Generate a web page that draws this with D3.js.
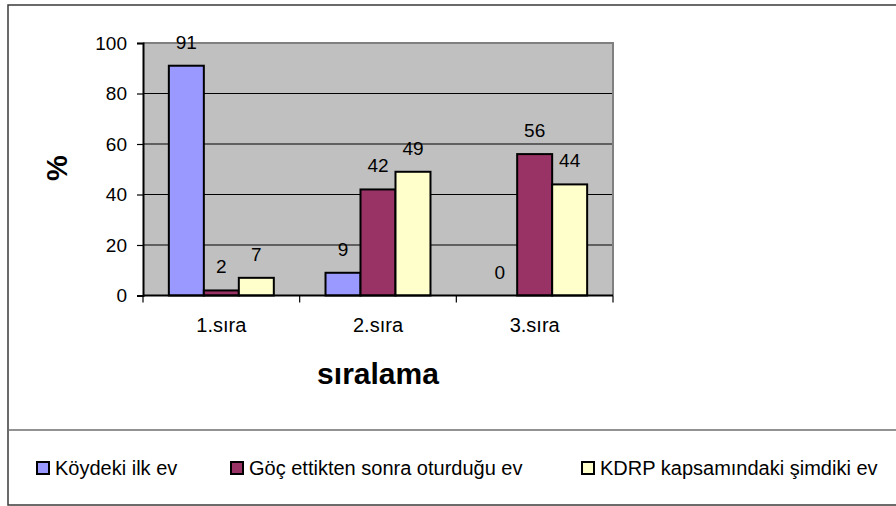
<!DOCTYPE html>
<html>
<head>
<meta charset="utf-8">
<script src="https://cdn.jsdelivr.net/npm/d3@7"></script>
<style>
  html, body { margin: 0; padding: 0; background: #fff; }
  svg { display: block; font-family: "Liberation Sans", Arial, sans-serif; }
</style>
</head>
<body>
<svg id="chart" width="896" height="506"></svg>
<script>
// Categories, series and values
const categories = ["1.sıra", "2.sıra", "3.sıra"];
const seriesNames = ["Köydeki ilk ev", "Göç ettikten sonra oturduğu ev", "KDRP kapsamındaki şimdiki ev"];
const seriesColors = ["#9999FF", "#993366", "#FFFFCC"];
const koydekiIlkEv = [91, 9, 0];
const gocSonrasiEv = [2, 42, 56];
const kdrpSimdikiEv = [7, 49, 44];
const yTicks = [0, 20, 40, 60, 80, 100];

const seriesValues = [koydekiIlkEv, gocSonrasiEv, kdrpSimdikiEv];

const svg = d3.select("#chart");

// Outer chart frame and legend separator
svg.append("rect")
  .attr("x", 8).attr("y", 5).attr("width", 900).attr("height", 500)
  .attr("fill", "none").attr("stroke", "#3a3a3a").attr("stroke-width", 1.5);
svg.append("line")
  .attr("x1", 8).attr("x2", 896).attr("y1", 430).attr("y2", 430)
  .attr("stroke", "#6e6e6e").attr("stroke-width", 1.5);

// Plot area
const plot = { left: 143, right: 613, top: 43, bottom: 295.5 };

const x = d3.scaleBand().domain(categories).range([plot.left, plot.right]).padding(0);
const groupWidth = x.bandwidth() * 0.67;
const xInner = d3.scaleBand()
  .domain(d3.range(seriesNames.length))
  .range([(x.bandwidth() - groupWidth) / 2, (x.bandwidth() + groupWidth) / 2])
  .padding(0);
const y = d3.scaleLinear().domain([0, 100]).range([plot.bottom, plot.top]);

// Grey plot background
svg.append("rect")
  .attr("x", plot.left).attr("y", plot.top)
  .attr("width", plot.right - plot.left).attr("height", plot.bottom - plot.top)
  .attr("fill", "#C0C0C0");

// Horizontal gridlines
svg.append("g")
  .selectAll("line")
  .data(yTicks.filter(t => t > 0 && t < 100))
  .join("line")
  .attr("x1", plot.left).attr("x2", plot.right)
  .attr("y1", d => y(d)).attr("y2", d => y(d))
  .attr("stroke", "#000").attr("stroke-width", 1);

// Top and right border of the plot area
svg.append("path")
  .attr("d", `M${plot.left},${y(100)}H${plot.right}V${plot.bottom}`)
  .attr("fill", "none").attr("stroke", "#808080").attr("stroke-width", 2);

// Bars
const groups = svg.append("g")
  .selectAll("g")
  .data(categories)
  .join("g")
  .attr("transform", d => `translate(${x(d)},0)`);

groups.selectAll("rect")
  .data((c, ci) => seriesValues.map((vals, si) => ({ si, v: vals[ci] })))
  .join("rect")
  .attr("x", d => xInner(d.si))
  .attr("width", xInner.bandwidth())
  .attr("y", d => y(d.v))
  .attr("height", d => y(0) - y(d.v))
  .attr("fill", d => seriesColors[d.si])
  .attr("stroke", "#000")
  .attr("stroke-width", 2);

// Value labels
groups.selectAll("text")
  .data((c, ci) => seriesValues.map((vals, si) => ({ si, v: vals[ci] })))
  .join("text")
  .attr("x", d => xInner(d.si) + xInner.bandwidth() / 2)
  .attr("y", d => y(d.v) - 17)
  .attr("text-anchor", "middle")
  .attr("font-size", 19)
  .attr("fill", "#000")
  .text(d => d.v);

// Y axis
const yAxis = d3.axisLeft(y).tickValues(yTicks).tickSize(6).tickPadding(10);
const gy = svg.append("g").attr("transform", `translate(${plot.left},0)`).call(yAxis);
gy.select(".domain").attr("stroke", "#000").attr("stroke-width", 2);
gy.selectAll(".tick line").attr("stroke", "#000").attr("stroke-width", 1.2);
gy.selectAll(".tick text")
  .attr("font-size", 19).attr("font-family", "'Liberation Sans', Arial, sans-serif").attr("fill", "#000");

// X axis: baseline with ticks at the category boundaries
svg.append("line")
  .attr("x1", plot.left).attr("x2", plot.right)
  .attr("y1", y(0)).attr("y2", y(0))
  .attr("stroke", "#000").attr("stroke-width", 2);
const boundaries = categories.map(c => x(c)).concat([x(categories[categories.length - 1]) + x.bandwidth()]);
svg.append("g")
  .selectAll("line")
  .data(boundaries)
  .join("line")
  .attr("x1", d => d).attr("x2", d => d)
  .attr("y1", y(0)).attr("y2", y(0) + 7)
  .attr("stroke", "#000").attr("stroke-width", 1.2);
svg.append("g")
  .selectAll("text")
  .data(categories)
  .join("text")
  .attr("x", d => x(d) + x.bandwidth() / 2)
  .attr("y", 332)
  .attr("text-anchor", "middle")
  .attr("font-size", 20)
  .attr("fill", "#000")
  .text(d => d);

// Axis titles
svg.append("text")
  .attr("transform", "translate(67,168) rotate(-90)")
  .attr("text-anchor", "middle")
  .attr("font-size", 29)
  .attr("font-weight", "bold")
  .text("%");
svg.append("text")
  .attr("x", 378).attr("y", 384)
  .attr("text-anchor", "middle")
  .attr("font-size", 30)
  .attr("font-weight", "bold")
  .text("sıralama");

// Legend
const legendX = [37, 231, 582];
const legend = svg.append("g")
  .selectAll("g")
  .data(seriesNames)
  .join("g")
  .attr("transform", (d, i) => `translate(${legendX[i]},462)`);
legend.append("rect")
  .attr("width", 12).attr("height", 12)
  .attr("fill", (d, i) => seriesColors[i])
  .attr("stroke", "#000").attr("stroke-width", 2);
legend.append("text")
  .attr("x", 18).attr("y", 13)
  .attr("font-size", 20)
  .attr("fill", "#000")
  .text(d => d);
</script>
</body>
</html>
